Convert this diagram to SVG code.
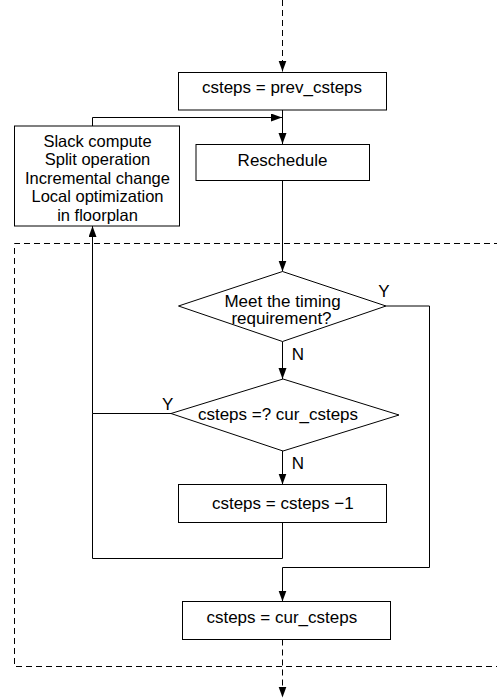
<svg xmlns="http://www.w3.org/2000/svg" width="497" height="700" viewBox="0 0 497 700">
  <style>
    .box { fill: #fff; stroke: #000; stroke-width: 1; }
    .wire { fill: none; stroke: #000; stroke-width: 1; }
    .dash { fill: none; stroke: #000; stroke-width: 1; stroke-dasharray: 6 4; }
    text { font-family: "Liberation Sans", Arial, Helvetica, sans-serif; font-size: 17px; fill: #000; }
    .c { text-anchor: middle; }
    .tight { font-size: 16.5px; }
  </style>
  <defs>
    <marker id="arrow" markerUnits="userSpaceOnUse" markerWidth="12" markerHeight="9" refX="11" refY="4" orient="auto">
      <path d="M0,0 L11,4 L0,8 z" fill="#000" stroke="none"/>
    </marker>
  </defs>

  <rect width="497" height="700" fill="#fff"/>

  <!-- dashed region frame (open on the right edge) -->
  <path class="dash" d="M510 243.5 H14.5 V666.5 H510"/>

  <g id="connectors">
    <path class="dash" d="M282.5 0 V71.5" marker-end="url(#arrow)"/>
    <path class="wire" d="M282.5 110 V144" marker-end="url(#arrow)"/>
    <path class="wire" d="M92.5 126 V117.5 H282" marker-end="url(#arrow)"/>
    <path class="wire" d="M282.5 180.5 V271.5" marker-end="url(#arrow)"/>
    <path class="wire" d="M386 306 H429.5 V567.5 H282.5 V601.5" marker-end="url(#arrow)"/>
    <path class="wire" d="M282.5 341.5 V379" marker-end="url(#arrow)"/>
    <path class="wire" d="M171 413.5 H92.5 V226" marker-end="url(#arrow)"/>
    <path class="wire" d="M282.5 451 V484.5" marker-end="url(#arrow)"/>
    <path class="wire" d="M282.5 522.5 V558.5 H92.5 V413.5"/>
    <path class="dash" d="M282.5 639.5 V697.5" marker-end="url(#arrow)"/>
  </g>

  <g id="init">
    <rect class="box" x="178.5" y="72.5" width="208" height="37.5"/>
    <text class="c" x="282" y="92.5">csteps = prev_csteps</text>
  </g>

  <g id="optimize">
    <rect class="box" x="14.5" y="126" width="165" height="100"/>
    <text class="c tight" x="97.5" y="146.5">Slack compute</text>
    <text class="c tight" x="97.5" y="165">Split operation</text>
    <text class="c tight" x="97.5" y="183.5">Incremental change</text>
    <text class="c tight" x="97.5" y="202">Local optimization</text>
    <text class="c tight" x="97.5" y="220.5">in floorplan</text>
  </g>

  <g id="reschedule">
    <rect class="box" x="196" y="144.5" width="173.5" height="36"/>
    <text class="c" x="282.5" y="165.7">Reschedule</text>
  </g>

  <g id="timing-check">
    <polygon class="box" points="282.5,271.5 386,306 282.5,341.5 178.5,306"/>
    <text class="c" x="282.5" y="306.5">Meet the timing</text>
    <text class="c" x="281.5" y="324">requirement?</text>
    <text x="378.3" y="296.7">Y</text>
    <text x="291.7" y="360">N</text>
  </g>

  <g id="csteps-check">
    <polygon class="box" points="283,379 399,415 283,451 171,413.5"/>
    <text class="c" x="278" y="420">csteps =? cur_csteps</text>
    <text x="162" y="410">Y</text>
    <text x="291.7" y="469.3">N</text>
  </g>

  <g id="decrement">
    <rect class="box" x="178.5" y="484.5" width="208" height="38"/>
    <text class="c" x="282.8" y="509">csteps = csteps −1</text>
  </g>

  <g id="restore">
    <rect class="box" x="182.5" y="601.5" width="208" height="38"/>
    <text class="c" x="281.8" y="623.3">csteps = cur_csteps</text>
  </g>
</svg>
